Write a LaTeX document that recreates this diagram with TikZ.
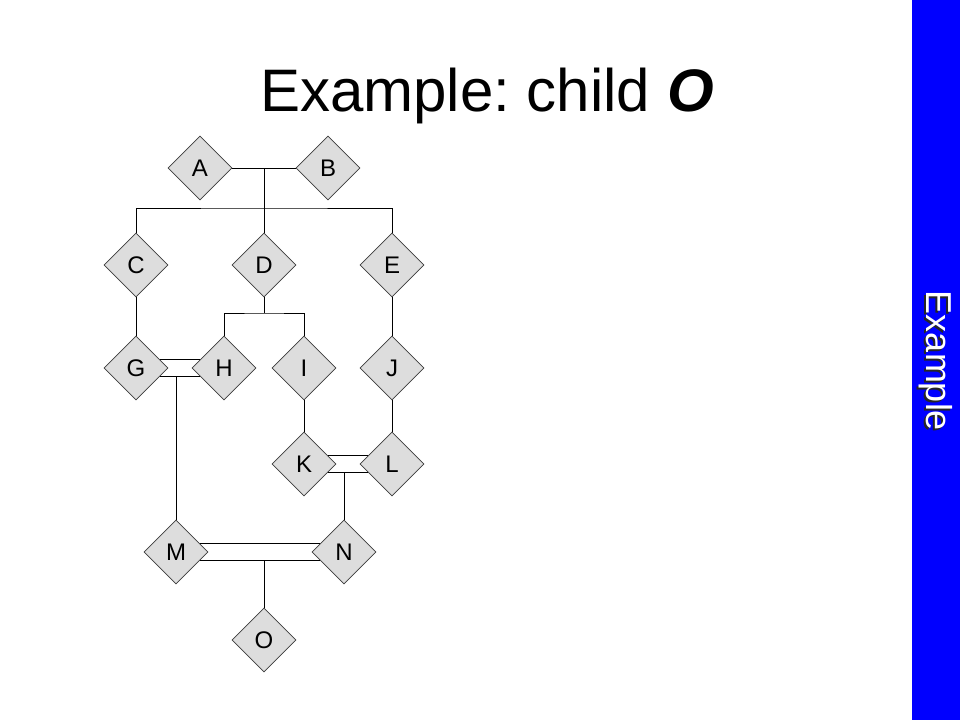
\documentclass[tikz,border=0pt]{standalone}
\usepackage{fontspec}
\setmainfont{Liberation Sans}
\usetikzlibrary{shapes.geometric,calc}
\definecolor{dfill}{RGB}{221,221,221}
\definecolor{dline}{RGB}{60,60,60}
\definecolor{sidebar}{RGB}{0,0,255}
\begin{document}
\begin{tikzpicture}[x=1pt,y=-1pt,
  person/.style={diamond,draw=dline,fill=dfill,line width=0.6pt,minimum width=64pt,minimum height=64pt,inner sep=0pt,font=\fontsize{24}{28}\selectfont},
  link/.style={draw=black,line width=0.9pt}]
\useasboundingbox (0,0) rectangle (960,720);
\fill[white] (0,0) rectangle (960,720);
\fill[sidebar] (912,0) rectangle (960,720);
\node[text=black!85,rotate=-90,font=\fontsize{36}{42}\selectfont] (sideshadow) at (934,363) {Example};
\node[text=white,rotate=-90,font=\fontsize{36}{42}\selectfont] (side) at (936,361) {Example};
\node[anchor=base,font=\fontsize{60}{70}\selectfont] (title) at (487,111) {\frenchspacing Example: child \textbf{\textit{O}}};
% persons
\node[person] (A) at (200,168) {A};
\node[person] (B) at (328,168) {B};
\node[person] (C) at (136,265) {C};
\node[person] (D) at (264,265) {D};
\node[person] (E) at (392,265) {E};
\node[person] (G) at (136,368) {G};
\node[person] (H) at (224,368) {H};
\node[person] (I) at (304,368) {I};
\node[person] (J) at (392,368) {J};
\node[person] (K) at (304,464) {K};
\node[person] (L) at (392,464) {L};
\node[person] (M) at (176,552) {M};
\node[person] (N) at (344,552) {N};
\node[person] (O) at (264,640) {O};
% A-B couple and children C D E
\draw[link] (A.east) -- (B.west);
\coordinate (abjoin) at (D |- A.east);
\coordinate (cdebar) at (264,208);
\draw[link] (abjoin) -- (cdebar);
\draw[link] (C.north) |- (cdebar) -| (E.north);
\draw[link] (D.north) -- (cdebar);
% D's children H, I
\coordinate (hibar) at (264,313);
\draw[link] (D.south) -- (hibar);
\draw[link] (H.north) |- (hibar) -| (I.north);
% vertical descent
\draw[link] (C.south) -- (G.north);
\draw[link] (E.south) -- (J.north);
\draw[link] (I.south) -- (K.north);
\draw[link] (J.south) -- (L.north);
% G=H marriage
\coordinate (g1) at ($(G.east)!0.25!(G.north)$);
\coordinate (g2) at ($(G.east)!0.25!(G.south)$);
\coordinate (h1) at ($(H.west)!0.25!(H.north)$);
\coordinate (h2) at ($(H.west)!0.25!(H.south)$);
\draw[link] (g1) -- (h1);
\draw[link] (g2) -- (h2);
\draw[link] (M.north) -- (M.north |- g2);
% K=L marriage
\coordinate (k1) at ($(K.east)!0.25!(K.north)$);
\coordinate (k2) at ($(K.east)!0.25!(K.south)$);
\coordinate (l1) at ($(L.west)!0.25!(L.north)$);
\coordinate (l2) at ($(L.west)!0.25!(L.south)$);
\draw[link] (k1) -- (l1);
\draw[link] (k2) -- (l2);
\draw[link] (N.north) -- (N.north |- k2);
% M=N marriage
\coordinate (m1) at ($(M.east)!0.25!(M.north)$);
\coordinate (m2) at ($(M.east)!0.25!(M.south)$);
\coordinate (n1) at ($(N.west)!0.25!(N.north)$);
\coordinate (n2) at ($(N.west)!0.25!(N.south)$);
\draw[link] (m1) -- (n1);
\draw[link] (m2) -- (n2);
\draw[link] (O.north) -- (O.north |- m2);
\end{tikzpicture}
\end{document}
